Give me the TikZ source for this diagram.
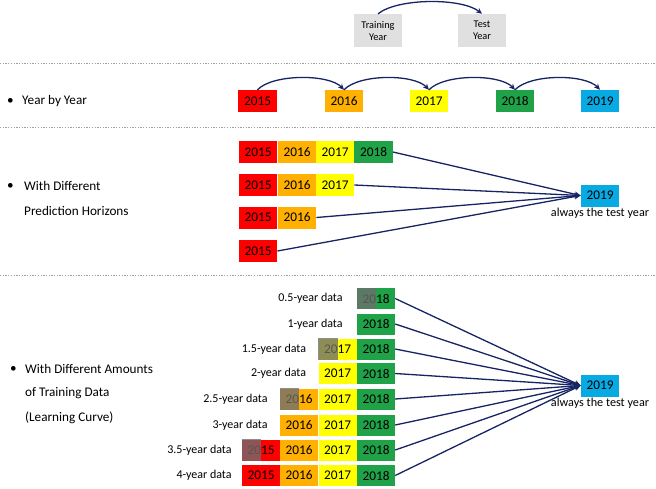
\documentclass[tikz,border=0pt]{standalone}
\usepackage{fontspec}
\setmainfont{Carlito}
\usetikzlibrary{arrows.meta}
\definecolor{cR}{RGB}{255,0,0}
\definecolor{cO}{RGB}{255,176,0}
\definecolor{cY}{RGB}{255,255,0}
\definecolor{cG}{RGB}{32,162,72}
\definecolor{cB}{RGB}{8,170,228}
\definecolor{navy}{RGB}{22,36,100}
\definecolor{boxgray}{RGB}{224,224,224}
\definecolor{ovl}{RGB}{110,110,110}
\begin{document}
\begin{tikzpicture}[x=1pt,y=-1pt,
  yb/.style={rectangle, minimum width=38.5pt, minimum height=22pt, inner sep=0pt, font=\fontsize{13.3}{13}\selectfont},
  tb/.style={rectangle, fill=boxgray, minimum width=48pt, minimum height=33pt, inner sep=0pt, align=center, font=\fontsize{10.3}{12}\selectfont},
  lbl/.style={anchor=east, inner sep=0pt, font=\fontsize{12}{12}\selectfont},
  side/.style={anchor=west, inner sep=0pt, font=\fontsize{13.2}{13}\selectfont},
  note/.style={anchor=north, inner sep=1.5pt, font=\fontsize{12.2}{12}\selectfont},
  arr/.style={draw=navy, line width=1.3pt, -{Stealth[length=6pt,width=5.5pt]}},
  sep/.style={draw=gray!75, line width=1pt, dash pattern=on 1.3pt off 1.4pt},
  half/.style={fill=ovl, fill opacity=0.78}
]
\useasboundingbox (0,0) rectangle (656,488);

% legend
\node[tb] (tr) at (378,30.5) {Training\\Year};
\node[tb] (te) at (482,30.5) {Test\\Year};
\draw[arr] (tr.north) .. controls +(20,-16) and +(-20,-16) .. (te.north);

% separators
\draw[sep] (0,63) -- (656,63);
\draw[sep] (0,127) -- (656,127);
\draw[sep] (0,275) -- (656,275);

% section 1
\node[side] (b1) at (7,101) {•};
\node[side] (s1) at (22,101) {Year by Year};
\node[yb, fill=cR] (y15) at (257.5,101) {2015};
\node[yb, fill=cO] (y16) at (344,101) {2016};
\node[yb, fill=cY] (y17) at (429,101) {2017};
\node[yb, fill=cG] (y18) at (515,101) {2018};
\node[yb, fill=cB] (y19) at (600,101) {2019};
\foreach \a/\b in {y15/y16,y16/y17,y17/y18,y18/y19}
  \draw[arr] (\a.north) .. controls +(15,-16) and +(-15,-16) .. (\b.north);

% section 2
\node[side] (b2) at (7,186) {•};
\node[side] (s2a) at (24,186) {With Different};
\node[side] (s2b) at (24,211) {Prediction Horizons};

\node[yb, fill=cR] (p1a) at (258,152) {2015};
\node[yb, fill=cO] (p1b) at (297,152) {2016};
\node[yb, fill=cY] (p1c) at (335,152) {2017};
\node[yb, fill=cG] (p1d) at (373.5,152) {2018};

\node[yb, fill=cR] (p2a) at (258,185) {2015};
\node[yb, fill=cO] (p2b) at (297,185) {2016};
\node[yb, fill=cY] (p2c) at (335,185) {2017};

\node[yb, fill=cR] (p3a) at (258,217.5) {2015};
\node[yb, fill=cO] (p3b) at (297,217.5) {2016};

\node[yb, fill=cR] (p4a) at (258,251) {2015};

\node[yb, fill=cB] (t2) at (600,195.5) {2019};
\node[note] (n2) at (t2.south) {always the test year};
\foreach \s in {p1d,p2c,p3b,p4a}
  \draw[arr] (\s.east) -- (t2.west);

% section 3
\node[side] (b3) at (10,369) {•};
\node[side] (s3a) at (25,369) {With Different Amounts};
\node[side] (s3b) at (25,393.5) {of Training Data};
\node[side] (s3c) at (25,418) {(Learning Curve)};

\node[yb, fill=cG, minimum width=38pt, minimum height=21pt] (r1d) at (376,298.5) {2018};
\node[yb, fill=cG, minimum width=38pt, minimum height=21pt] (r2d) at (376,324) {2018};
\node[yb, fill=cY, minimum width=38pt, minimum height=21pt] (r3c) at (337.5,349) {2017};
\node[yb, fill=cG, minimum width=38pt, minimum height=21pt] (r3d) at (376,349) {2018};
\node[yb, fill=cY, minimum width=38pt, minimum height=21pt] (r4c) at (337.5,373.5) {2017};
\node[yb, fill=cG, minimum width=38pt, minimum height=21pt] (r4d) at (376,373.5) {2018};
\node[yb, fill=cO, minimum width=38pt, minimum height=21pt] (r5b) at (299,399) {2016};
\node[yb, fill=cY, minimum width=38pt, minimum height=21pt] (r5c) at (337.5,399) {2017};
\node[yb, fill=cG, minimum width=38pt, minimum height=21pt] (r5d) at (376,399) {2018};
\node[yb, fill=cO, minimum width=38pt, minimum height=21pt] (r6b) at (299,425) {2016};
\node[yb, fill=cY, minimum width=38pt, minimum height=21pt] (r6c) at (337.5,425) {2017};
\node[yb, fill=cG, minimum width=38pt, minimum height=21pt] (r6d) at (376,425) {2018};
\node[yb, fill=cR, minimum width=38pt, minimum height=21pt] (r7a) at (261,450) {2015};
\node[yb, fill=cO, minimum width=38pt, minimum height=21pt] (r7b) at (299,450) {2016};
\node[yb, fill=cY, minimum width=38pt, minimum height=21pt] (r7c) at (337.5,450) {2017};
\node[yb, fill=cG, minimum width=38pt, minimum height=21pt] (r7d) at (376,450) {2018};
\node[yb, fill=cR, minimum width=38pt, minimum height=21pt] (r8a) at (261,475.5) {2015};
\node[yb, fill=cO, minimum width=38pt, minimum height=21pt] (r8b) at (299,475.5) {2016};
\node[yb, fill=cY, minimum width=38pt, minimum height=21pt] (r8c) at (337.5,475.5) {2017};
\node[yb, fill=cG, minimum width=38pt, minimum height=21pt] (r8d) at (376,475.5) {2018};

% half-year shading
\fill[half] (r1d.north west) rectangle (r1d.south);
\fill[half] (r3c.north west) rectangle (r3c.south);
\fill[half] (r5b.north west) rectangle (r5b.south);
\fill[half] (r7a.north west) rectangle (r7a.south);

% labels
\node[lbl] (l1) at ([xshift=-14pt]r1d.west) {0.5-year data};
\node[lbl] (l2) at ([xshift=-14pt]r2d.west) {1-year data};
\node[lbl] (l3) at ([xshift=-12pt]r3c.west) {1.5-year data};
\node[lbl] (l4) at ([xshift=-12pt]r4c.west) {2-year data};
\node[lbl] (l5) at ([xshift=-12pt]r5b.west) {2.5-year data};
\node[lbl] (l6) at ([xshift=-12pt]r6b.west) {3-year data};
\node[lbl] (l7) at ([xshift=-10pt]r7a.west) {3.5-year data};
\node[lbl] (l8) at ([xshift=-10pt]r8a.west) {4-year data};

\node[yb, fill=cB] (t3) at (600,385.5) {2019};
\node[note] (n3) at (t3.south) {always the test year};
\foreach \s in {r1d,r2d,r3d,r4d,r5d,r6d,r7d,r8d}
  \draw[arr] (\s.east) -- (t3.west);
\end{tikzpicture}
\end{document}
